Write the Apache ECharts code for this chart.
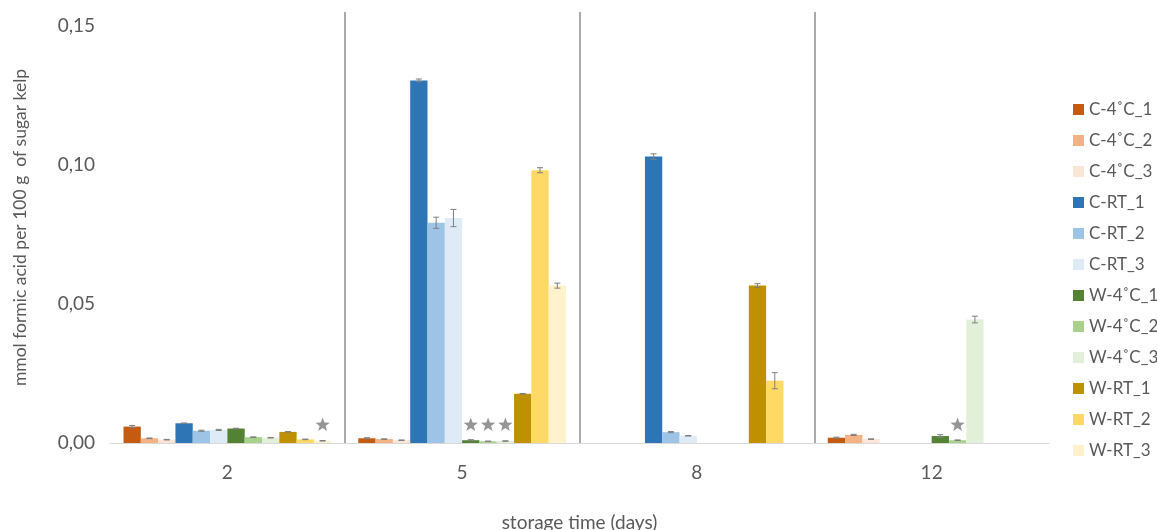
<!DOCTYPE html>
<html>
<head>
<meta charset="utf-8">
<script src="https://cdn.jsdelivr.net/npm/echarts@6/dist/echarts.min.js"></script>
<style>
  html, body { margin: 0; padding: 0; background: #fff; }
  #chart { width: 1157px; height: 530px; }
</style>
</head>
<body>
<div id="chart"></div>
<script>
// storage days on the x axis
const days = ['2', '5', '8', '12'];

const seriesNames = [
  'C-4˚C_1', 'C-4˚C_2', 'C-4˚C_3',
  'C-RT_1', 'C-RT_2', 'C-RT_3',
  'W-4˚C_1', 'W-4˚C_2', 'W-4˚C_3',
  'W-RT_1', 'W-RT_2', 'W-RT_3'
];

const colors = [
  '#C55A11', '#F4B183', '#FBE5D6',
  '#2E75B6', '#9DC3E6', '#DEEBF7',
  '#548235', '#A9D18E', '#E2F0D9',
  '#BF9000', '#FFD966', '#FFF2CC'
];

// mean values per series, one entry per day (null = not measured)
const c4_1 = [0.0059, 0.0017, null, 0.0019];
const c4_2 = [0.0017, 0.0014, null, 0.0029];
const c4_3 = [0.0012, 0.0010, null, 0.0014];
const crt_1 = [0.0071, 0.1304, 0.1030, null];
const crt_2 = [0.0044, 0.0792, 0.0039, null];
const crt_3 = [0.0047, 0.0809, 0.0026, null];
const w4_1 = [0.0052, 0.0010, null, 0.0025];
const w4_2 = [0.0021, 0.0006, null, 0.0010];
const w4_3 = [0.0019, 0.0007, null, 0.0444];
const wrt_1 = [0.0040, 0.0177, 0.0566, null];
const wrt_2 = [0.0013, 0.0981, 0.0224, null];
const wrt_3 = [0.0008, 0.0566, null, null];

// standard deviations
const c4_1Err = [0.0004, 0.0002, null, 0.0002];
const c4_2Err = [0.0001, 0.0001, null, 0.0002];
const c4_3Err = [0.0001, 0.0001, null, 0.0001];
const crt_1Err = [0.0001, 0.0005, 0.0010, null];
const crt_2Err = [0.0002, 0.0020, 0.0002, null];
const crt_3Err = [0.0002, 0.0031, 0.0001, null];
const w4_1Err = [0.0001, 0.0002, null, 0.0005];
const w4_2Err = [0.0001, 0.0001, null, 0.0001];
const w4_3Err = [0.0001, 0.0001, null, 0.0012];
const wrt_1Err = [0.0001, 0.0001, 0.0007, null];
const wrt_2Err = [0.0001, 0.0009, 0.0029, null];
const wrt_3Err = [0.0001, 0.0009, null, null];

// significance stars: [day index, series index]
const stars = [[0, 11], [1, 6], [1, 7], [1, 8], [3, 7]];

const values = [c4_1, c4_2, c4_3, crt_1, crt_2, crt_3, w4_1, w4_2, w4_3, wrt_1, wrt_2, wrt_3];
const errors = [c4_1Err, c4_2Err, c4_3Err, crt_1Err, crt_2Err, crt_3Err, w4_1Err, w4_2Err, w4_3Err, wrt_1Err, wrt_2Err, wrt_3Err];

const CAT_GAP = 0.115;
const FONT = 'Lato, "Open Sans", sans-serif';
const TEXT = '#595959';

function barCenter(api, dayIdx, sIdx) {
  const band = api.size([1, 0])[0];
  const barW = band * (1 - CAT_GAP) / seriesNames.length;
  const cx = api.coord([dayIdx, 0])[0];
  return { x: cx + (sIdx - (seriesNames.length - 1) / 2) * barW, w: barW };
}

const errData = [];
values.forEach((vals, s) => {
  vals.forEach((v, d) => {
    if (v != null) errData.push([d, s, v, errors[s][d]]);
  });
});

const barSeries = seriesNames.map((name, s) => ({
  name,
  type: 'bar',
  data: values[s],
  barGap: '0%',
  barCategoryGap: (CAT_GAP * 100) + '%',
  itemStyle: { color: colors[s] },
  emphasis: { disabled: true }
}));

const errorSeries = {
  type: 'custom',
  silent: true,
  z: 5,
  data: errData,
  renderItem(params, api) {
    const d = api.value(0), s = api.value(1), v = api.value(2), e = api.value(3);
    const { x } = barCenter(api, d, s);
    const yHi = api.coord([d, v + e])[1];
    const yLo = api.coord([d, v - e])[1];
    const cap = 3;
    const style = { stroke: '#7f7f7f', lineWidth: 1 };
    return {
      type: 'group',
      children: [
        { type: 'line', shape: { x1: x, y1: yHi, x2: x, y2: yLo }, style },
        { type: 'line', shape: { x1: x - cap, y1: yHi, x2: x + cap, y2: yHi }, style },
        { type: 'line', shape: { x1: x - cap, y1: yLo, x2: x + cap, y2: yLo }, style }
      ]
    };
  }
};

const starSeries = {
  type: 'custom',
  silent: true,
  z: 6,
  data: stars,
  renderItem(params, api) {
    const d = api.value(0), s = api.value(1);
    const { x } = barCenter(api, d, s);
    const y = api.coord([d, 0])[1] - 18;
    const pts = [];
    for (let i = 0; i < 10; i++) {
      const r = i % 2 === 0 ? 7.5 : 3.1;
      const a = -Math.PI / 2 + i * Math.PI / 5;
      pts.push([x + r * Math.cos(a), y + r * Math.sin(a)]);
    }
    return { type: 'polygon', shape: { points: pts }, style: { fill: '#959595' } };
  }
};

const chart = echarts.init(document.getElementById('chart'), null, { renderer: 'canvas' });
chart.setOption({
  animation: false,
  color: colors,
  textStyle: { fontFamily: FONT },
  grid: { left: 110, right: 108, top: 12, bottom: 87, outerBoundsMode: 'none', containLabel: false },
  legend: {
    orient: 'vertical',
    left: 1068,
    top: 96,
    itemWidth: 11,
    itemHeight: 11,
    itemGap: 14,
    icon: 'rect',
    data: seriesNames,
    textStyle: { fontFamily: FONT, fontSize: 17, color: TEXT, lineHeight: 17 }
  },
  xAxis: {
    type: 'category',
    data: days,
    axisLine: { lineStyle: { color: '#d9d9d9', width: 1 } },
    axisTick: { show: false },
    axisLabel: { fontFamily: FONT, fontSize: 19, color: TEXT, margin: 20 },
    splitLine: {
      show: true,
      showMinLine: false,
      showMaxLine: false,
      lineStyle: { color: '#ababab', width: 2 }
    },
    name: 'storage time (days)',
    nameLocation: 'middle',
    nameGap: 70,
    nameTextStyle: { fontFamily: FONT, fontSize: 19, color: TEXT }
  },
  yAxis: {
    type: 'value',
    min: 0,
    max: 0.155,
    interval: 0.05,
    axisLine: { show: false },
    axisTick: { show: false },
    splitLine: { show: false },
    axisLabel: {
      fontFamily: FONT,
      fontSize: 19,
      color: TEXT,
      margin: 15,
      formatter: (v) => (v > 0.1501 ? '' : v.toFixed(2).replace('.', ','))
    },
    name: 'mmol formic acid per 100 g  of sugar kelp',
    nameLocation: 'middle',
    nameGap: 81,
    nameRotate: 90,
    nameTextStyle: { fontFamily: FONT, fontSize: 17.5, color: TEXT }
  },
  series: [...barSeries, errorSeries, starSeries]
});
</script>
</body>
</html>
